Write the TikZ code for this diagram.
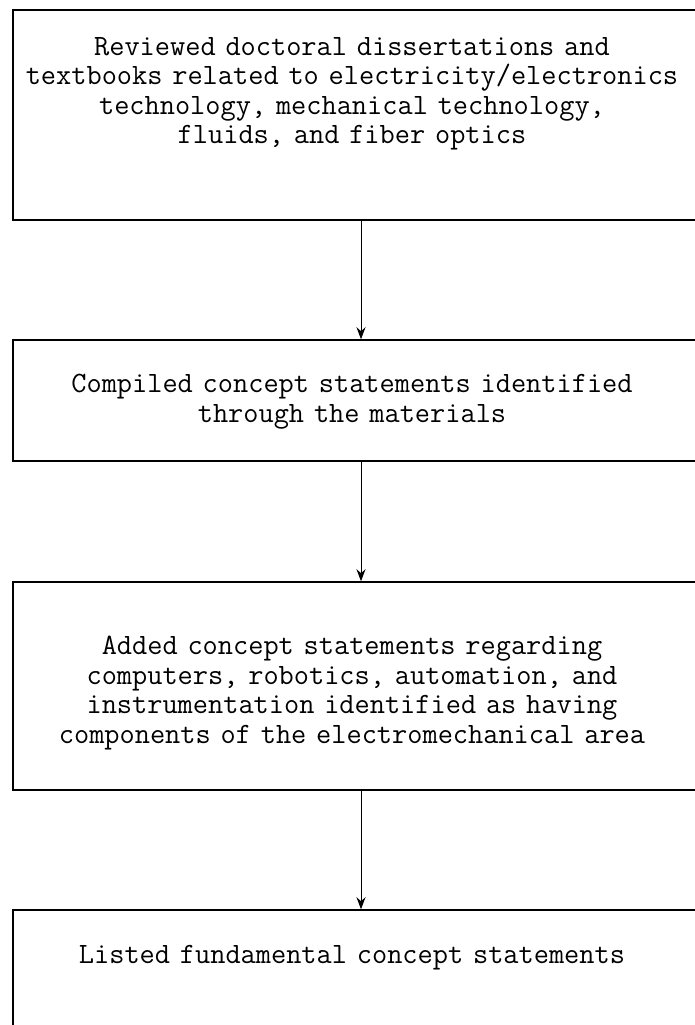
\documentclass[tikz,border=0pt]{standalone}
\usepackage{fontspec}
\usetikzlibrary{arrows.meta,positioning}

\tikzset{
  stepbox/.style={draw, line width=1.5pt, minimum width=696pt, inner sep=0pt},
  steptext/.style={font=\ttfamily\fontsize{29.5}{29.5}\selectfont, align=center,
    text width=690pt, inner sep=0pt, anchor=north},
  flow/.style={line width=1pt, -{Stealth[length=12pt,width=9pt]}},
}

\begin{document}
\begin{tikzpicture}[x=1pt,y=-1pt]
\useasboundingbox (0,0) rectangle (695,1025);

% boxes
\node[stepbox, minimum height=210pt] (b1) at (361,115) {};
\node[stepbox, minimum height=121pt] (b2) at (361,400.5) {};
\node[stepbox, minimum height=208pt] (b3) at (361,686) {};
\node[stepbox, minimum height=220pt] (b4) at (361,1020) {};

% texts
\node[steptext, below=28pt of b1.north, xshift=-9pt] (t1) {Reviewed doctoral dissertations and\\
textbooks related to electricity/electronics\\
technology, mechanical technology,\\
fluids, and fiber optics};
\node[steptext, below=35pt of b2.north, xshift=-9pt] (t2) {Compiled concept statements identified\\
through the materials};
\node[steptext, below=55pt of b3.north, xshift=-9pt] (t3) {Added concept statements regarding\\
computers, robotics, automation, and\\
instrumentation identified as having\\
components of the electromechanical area};
\node[steptext, below=36pt of b4.north, xshift=-9pt] (t4) {Listed fundamental concept statements};

% arrows
\draw[flow] (b1) -- (b2);
\draw[flow] (b2) -- (b3);
\draw[flow] (b3) -- (b4);

\end{tikzpicture}
\end{document}
